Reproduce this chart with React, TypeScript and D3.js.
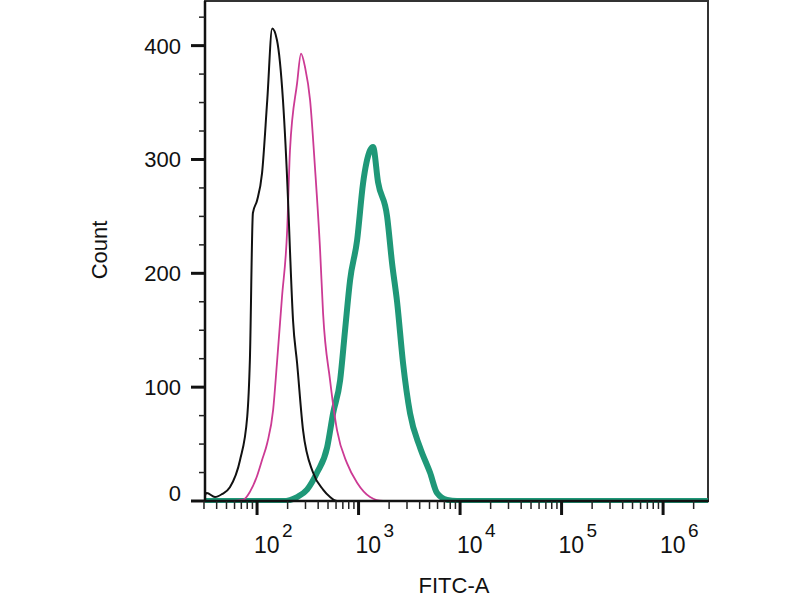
import * as d3 from 'd3';

// FITC-A intensity / event count pairs
const blackFitc = [30.7, 32, 38.5, 45, 54, 68, 80, 85, 91, 100, 112, 126, 141, 157, 180, 202, 211, 226, 248, 284, 356, 447, 524, 614, 800];
const blackCount = [5, 7, 3.5, 6, 12, 36, 74, 124, 253, 264, 288, 352, 415, 405, 352, 264, 220, 159, 121, 62, 25, 10, 3.5, 0, 0];

const magentaFitc = [54, 73, 85, 100, 112, 126, 144, 157, 176, 198, 211, 248, 271, 297, 333, 372, 418, 447, 524, 614, 771, 967, 1298, 1742, 2500];
const magentaCount = [0, 1, 8, 22, 36, 51, 80, 121, 179, 238, 308, 367, 393, 381, 352, 293, 220, 165, 106, 62, 33, 16, 3.5, 0, 0];

const tealFitc = [30.7, 180, 248, 311, 390, 490, 561, 658, 736, 825, 967, 1107, 1298, 1389, 1556, 1910, 2138, 2395, 2744, 3215, 4032, 5058, 5930, 7447, 9330, 2.77e6];
const tealCount = [0, 0, 3.5, 10, 25, 47, 77, 106, 150, 194, 229, 279, 308, 311, 280, 250, 209, 175, 121, 77, 47, 25, 7, 1, 0, 0];

const yTicksMajor = [0, 100, 200, 300, 400];
const yTicksMinor = [25, 50, 75, 125, 150, 175, 225, 250, 275, 325, 350, 375, 425];
const xDecades = [2, 3, 4, 5, 6];

const W = 800;
const H = 600;
const left = 205;
const right = 708;
const top = 1;
const bottom = 501;
const font = '"Liberation Sans", Arial, sans-serif';

export default function App() {
  const x = d3.scaleLog().domain([30.7, 2.77e6]).range([left, right]);
  const y = d3.scaleLinear().domain([0, 439.2]).range([bottom, top]);

  const line = d3
    .line<[number, number]>()
    .x((d) => x(d[0]))
    .y((d) => y(d[1]))
    .curve(d3.curveMonotoneX);

  const zip = (a: number[], b: number[]) => a.map((v, i) => [v, b[i]] as [number, number]);

  // minor log ticks 2..9 x 10^k inside the domain
  const minorX: number[] = [];
  for (let k = 1; k <= 6; k++) {
    for (let m = 2; m <= 9; m++) {
      const v = m * Math.pow(10, k);
      if (v >= 30 && v <= 2.77e6) minorX.push(v);
    }
  }

  return (
    <svg width={W} height={H} style={{ position: 'absolute', left: 0, top: 0, background: '#fff' }}>
      <defs>
        <clipPath id="plot-clip">
          <rect x={left} y={top} width={right - left} height={bottom - top + 2} />
        </clipPath>
      </defs>

      {/* frame */}
      <rect x={left} y={top} width={right - left} height={bottom - top} fill="none" stroke="#333" strokeWidth={2} />

      <g clipPath="url(#plot-clip)" fill="none" strokeLinejoin="round">
        <path d={line(zip(tealFitc, tealCount)) || ''} stroke="#1f9878" strokeWidth={6} />
        <path d={line(zip(magentaFitc, magentaCount)) || ''} stroke="#cc3a94" strokeWidth={1.8} />
        <path d={line(zip(blackFitc, blackCount)) || ''} stroke="#111" strokeWidth={2} />
      </g>

      {/* axes lines */}
      <line x1={left} x2={left} y1={top} y2={bottom + 1} stroke="#111" strokeWidth={2.5} />
      <line x1={left - 1} x2={right + 1} y1={bottom} y2={bottom} stroke="#111" strokeWidth={2.5} />

      {/* y ticks */}
      {yTicksMinor.map((t) => (
        <line key={'ym' + t} x1={left - 6} x2={left} y1={y(t)} y2={y(t)} stroke="#222" strokeWidth={1.5} />
      ))}
      {yTicksMajor.map((t) => (
        <g key={'yM' + t}>
          <line x1={left - 14} x2={left} y1={y(t)} y2={y(t)} stroke="#111" strokeWidth={3} />
          <text
            x={181}
            y={y(t) - (t === 0 ? 8 : 0)}
            dy="0.36em"
            textAnchor="end"
            fontFamily={font}
            fontSize={22}
            fill="#111"
          >
            {t}
          </text>
        </g>
      ))}

      {/* x ticks */}
      {minorX.map((v) => (
        <line key={'xm' + v} x1={x(v)} x2={x(v)} y1={bottom} y2={bottom + 8} stroke="#222" strokeWidth={1.5} />
      ))}
      {xDecades.map((k) => {
        const px = x(Math.pow(10, k));
        return (
          <g key={'xM' + k}>
            <line x1={px} x2={px} y1={bottom} y2={bottom + 14} stroke="#111" strokeWidth={3} />
            <text x={px - 3} y={553} fontFamily={font} fontSize={23} fill="#111">
              10
            </text>
            <text x={px + 25} y={537} fontFamily={font} fontSize={19} fill="#111">
              {k}
            </text>
          </g>
        );
      })}

      {/* axis titles */}
      <text
        transform="translate(107,250) rotate(-90)"
        textAnchor="middle"
        fontFamily={font}
        fontSize={22}
        fill="#111"
      >
        Count
      </text>
      <text x={454} y={593} textAnchor="middle" fontFamily={font} fontSize={22} fill="#111">
        FITC-A
      </text>
    </svg>
  );
}
